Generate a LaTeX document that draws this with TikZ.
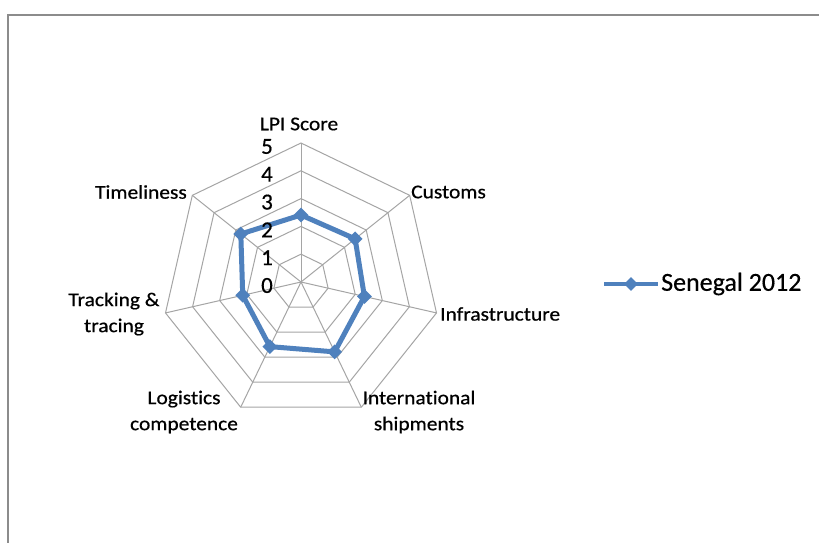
\documentclass[tikz,border=0pt]{standalone}
\usepackage{fontspec}
\setmainfont[Ligatures=NoCommon,FakeBold=0.5]{Carlito}
\newfontfamily\labfont[FakeStretch=1.1,FakeBold=0.6,Ligatures=NoCommon]{Carlito}
\usetikzlibrary{shapes.geometric,calc}
\definecolor{serblue}{RGB}{79,129,189}
\definecolor{gridgray}{RGB}{165,165,165}
\definecolor{framegray}{RGB}{140,140,140}
\begin{document}
\begin{tikzpicture}[x=1pt,y=-1pt,
 axlab/.style={font=\labfont\fontsize{19.5}{26}\selectfont, inner sep=0pt, align=center, text=black},
 ticklab/.style={font=\fontsize{23}{23}\selectfont, inner sep=0pt},
 gridline/.style={draw=gridgray, line width=1pt},
 marker/.style={diamond, fill=serblue, inner sep=0pt, minimum width=15pt, minimum height=15pt},
 series/.style={draw=serblue, line width=5pt, line join=round}]
\useasboundingbox (0,0) rectangle (819,543);
\fill[white] (0,0) rectangle (819,543);
\draw[framegray, line width=2pt] (8,560) -- (8,15) -- (830,15);
\coordinate (O) at (301,282);
\begin{scope}[shift={(O)}]
  \foreach \r in {1,...,5}{
    \draw[gridline] (90:\r*27.8pt) \foreach \k in {1,...,6}{ -- ({90-\k*360/7}:\r*27.8pt)} -- cycle;
  }
  \foreach \k in {0,...,6} \draw[gridline] (0,0) -- ({90-\k*360/7}:139pt);
  \foreach \v [count=\k from 0] in {2.41,2.49,2.34,2.79,2.58,2.15,2.77}
    \coordinate (d\k) at ({90-\k*360/7}:\v*27.8pt);
\end{scope}
\draw[series] (d0) -- (d1) -- (d2) -- (d3) -- (d4) -- (d5) -- (d6) -- cycle;
\foreach \k in {0,...,6} \node[marker] (m\k) at (d\k) {};
\foreach \t in {0,...,5} \node[ticklab] (t\t) at (267, {285.5-\t*27.8}) {\t};
\node[axlab] (lLPI) at (299,124) {LPI Score};
\node[axlab, anchor=west] (lCus) at (411,192) {Customs};
\node[axlab, anchor=west] (lInf) at (440,314) {Infrastructure};
\node[axlab] (lInt) at (419,412) {International\\shipments};
\node[axlab] (lLog) at (184,412) {Logistics\\competence};
\node[axlab] (lTra) at (114,314) {Tracking \&\\tracing};
\node[axlab, anchor=east] (lTim) at (187,192) {Timeliness};
\coordinate (lg1) at (604,284);
\coordinate (lg2) at (658,284);
\draw[serblue, line width=4pt] (lg1) -- (lg2);
\node[marker, minimum width=14pt, minimum height=14pt] (lgm) at (631,284) {};
\node[font=\fontsize{26}{26}\selectfont, anchor=west, inner sep=0pt] (lgt) at (661,284) {Senegal 2012};
\end{tikzpicture}
\end{document}
